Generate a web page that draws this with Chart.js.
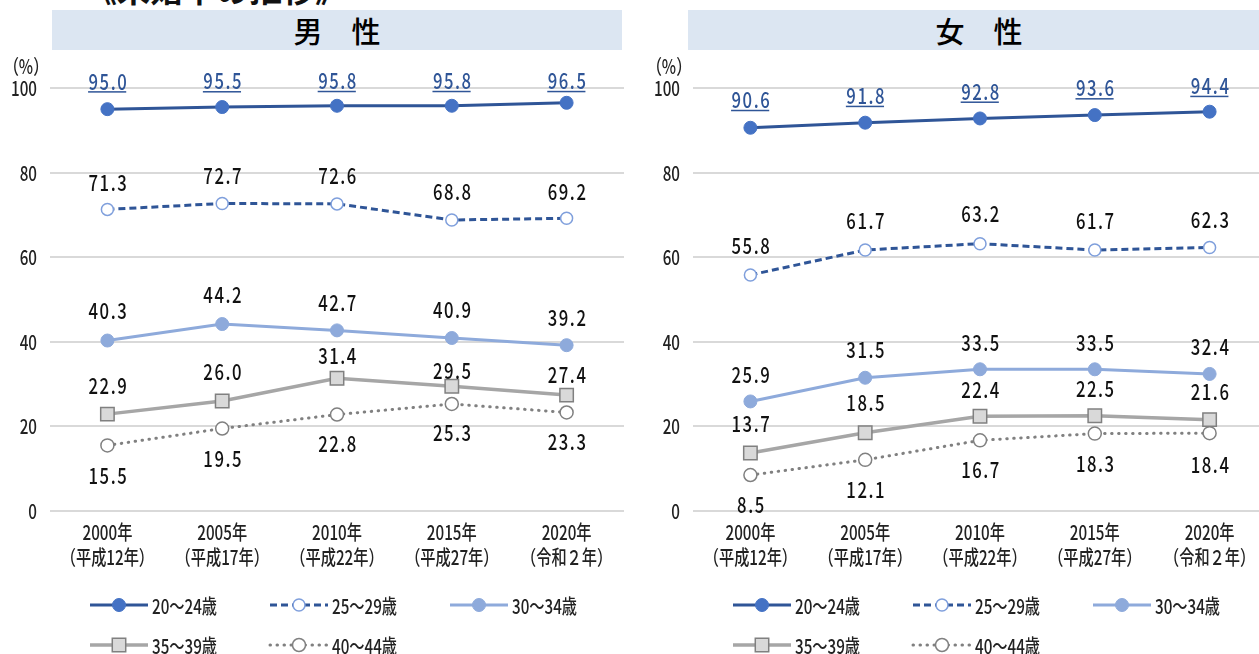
<!DOCTYPE html>
<html>
<head>
<meta charset="utf-8">
<script src="https://cdn.jsdelivr.net/npm/chart.js@4/dist/chart.umd.min.js"></script>
<style>
  body { margin: 0; width: 1259px; height: 654px; overflow: hidden; background: #fff; position: relative;
         font-family: "Noto Sans CJK JP", sans-serif; }
  .title { position: absolute; left: 84px; top: -28px; font-size: 33px; line-height: 33px; font-weight: 700; color: #111; white-space: nowrap; }
  .head { position: absolute; top: 10px; height: 40px; background: #dce6f2; color: #000;
          font-size: 29px; line-height: 40px; text-align: center; font-weight: 500; }
  canvas { position: absolute; top: 0; }
</style>
</head>
<body>
<div class="title">《未婚率の推移》</div>
<div class="head" style="left:52px;width:570px">男　性</div>
<div class="head" style="left:688px;width:582px">女　性</div>
<canvas id="male" width="645" height="654" style="left:0"></canvas>
<canvas id="female" width="645" height="654" style="left:643px"></canvas>
<script>
const YEARS = ['2000年', '2005年', '2010年', '2015年', '2020年']
const ERAS = ['（平成12年）', '（平成17年）', '（平成22年）', '（平成27年）', '（令和２年）']
const AGES = ['20～24歳', '25～29歳', '30～34歳', '35～39歳', '40～44歳']
const Y_TICKS = [0, 20, 40, 60, 80, 100]

// 男性
const MALE_20_24 = [95.0, 95.5, 95.8, 95.8, 96.5]
const MALE_25_29 = [71.3, 72.7, 72.6, 68.8, 69.2]
const MALE_30_34 = [40.3, 44.2, 42.7, 40.9, 39.2]
const MALE_35_39 = [22.9, 26.0, 31.4, 29.5, 27.4]
const MALE_40_44 = [15.5, 19.5, 22.8, 25.3, 23.3]

// 女性
const FEMALE_20_24 = [90.6, 91.8, 92.8, 93.6, 94.4]
const FEMALE_25_29 = [55.8, 61.7, 63.2, 61.7, 62.3]
const FEMALE_30_34 = [25.9, 31.5, 33.5, 33.5, 32.4]
const FEMALE_35_39 = [13.7, 18.5, 22.4, 22.5, 21.6]
const FEMALE_40_44 = [8.5, 12.1, 16.7, 18.3, 18.4]

// label nudges (px from the point), hand placed in the original
const MALE_SHIFT = [
  [-28, -26, -25, -25, -22],
  [-27, -28, -28, -28, -27],
  [-30, -29, -28, -28, -28],
  [-28, -29, -23, -16, -20],
  [30, 30, 29, 29, 29],
]
const FEMALE_SHIFT = [
  [-28, -27, -27, -27, -26],
  [-29, -29, -30, -29, -28],
  [-27, -28, -27, -27, -27],
  [-29, -30, -27, -27, -28],
  [30, 30, 29, 30, 31],
]

const FONT = '"Noto Sans CJK JP", sans-serif'
const NARROW = 0.76

const STYLES = [
  { borderColor: '#2f5597', borderWidth: 3, pointStyle: 'circle', pointRadius: 6.5,
    pointBackgroundColor: '#4472c4', pointBorderColor: '#4472c4', pointBorderWidth: 1,
    labelColor: '#2f5597', underline: true },
  { borderColor: '#2f5597', borderWidth: 3, borderDash: [7, 4], pointStyle: 'circle', pointRadius: 6,
    pointBackgroundColor: '#fff', pointBorderColor: '#7f9fdc', pointBorderWidth: 1.5 },
  { borderColor: '#8eaadb', borderWidth: 3, pointStyle: 'circle', pointRadius: 6.5,
    pointBackgroundColor: '#8eaadb', pointBorderColor: '#8eaadb', pointBorderWidth: 1 },
  { borderColor: '#a6a6a6', borderWidth: 3.5, pointStyle: 'rect', pointRadius: 9.5,
    pointBackgroundColor: '#d9d9d9', pointBorderColor: '#808080', pointBorderWidth: 1.5 },
  { borderColor: '#808080', borderWidth: 3, borderDash: [0.5, 6.5], borderCapStyle: 'round',
    pointStyle: 'circle', pointRadius: 6.5,
    pointBackgroundColor: '#fff', pointBorderColor: '#808080', pointBorderWidth: 1.5 },
]

// condensed text: the original uses a narrow face, so squeeze horizontally
function text(ctx, str, x, y, size, align = 'center', color = '#111', spacing = 0) {
  ctx.save()
  ctx.font = '500 ' + size + 'px ' + FONT
  ctx.letterSpacing = spacing + 'px'
  ctx.fillStyle = color
  ctx.textAlign = align
  ctx.textBaseline = 'middle'
  ctx.translate(x, y)
  ctx.scale(NARROW, 1)
  ctx.fillText(str, 0, 0)
  const w = ctx.measureText(str).width * NARROW
  ctx.restore()
  return w
}

function marker(ctx, ds, x, y) {
  ctx.save()
  ctx.setLineDash([])
  ctx.fillStyle = ds.pointBackgroundColor
  ctx.strokeStyle = ds.pointBorderColor
  ctx.lineWidth = ds.pointBorderWidth
  ctx.beginPath()
  if (ds.pointStyle === 'rect') {
    const s = ds.pointRadius * Math.SQRT1_2
    ctx.rect(x - s, y - s, 2 * s, 2 * s)
  } else {
    ctx.arc(x, y, ds.pointRadius, 0, Math.PI * 2)
  }
  ctx.fill()
  ctx.stroke()
  ctx.restore()
}

const extras = {
  id: 'extras',
  afterDatasetsDraw(chart) {
    const ctx = chart.ctx
    chart.data.datasets.forEach((ds, i) => {
      chart.getDatasetMeta(i).data.forEach((pt, j) => {
        const y = pt.y + ds.labelShift[j]
        const color = ds.labelColor || '#111'
        const w = text(ctx, ds.data[j].toFixed(1), pt.x + 1, y, 22, 'center', color, 2)
        if (ds.underline) {
          ctx.fillStyle = color
          ctx.fillRect(pt.x - w / 2 + 0.5, y + 10, w - 1.5, 1.5)
        }
      })
    })
  },
  afterDraw(chart) {
    const ctx = chart.ctx
    const { x: xs, y: ys } = chart.scales
    // axis labels
    text(ctx, '（%）', 26, 66, 20, 'center', '#222')
    Y_TICKS.forEach(v => text(ctx, String(v), 37, ys.getPixelForValue(v) + 0.5, 20, 'right', '#222'))
    chart.data.labels.forEach((lines, i) => {
      const x = xs.getPixelForValue(i)
      lines.forEach((s, k) => text(ctx, s, x, 532 + k * 25, 20, 'center', '#222'))
    })
    // legend
    chart.data.datasets.forEach((ds, i) => {
      const x = 90 + (i % 3) * 180
      const y = 605 + Math.floor(i / 3) * 40
      ctx.save()
      ctx.strokeStyle = ds.borderColor
      ctx.lineWidth = ds.borderWidth
      ctx.lineCap = ds.borderCapStyle || 'butt'
      ctx.setLineDash(ds.borderDash || [])
      ctx.beginPath()
      ctx.moveTo(x, y)
      ctx.lineTo(x + 58, y)
      ctx.stroke()
      ctx.restore()
      marker(ctx, ds, x + 29, y)
      text(ctx, ds.label, x + 62, y + 1, 20, 'left', '#222')
    })
  },
}

function build(id, series, shifts) {
  return new Chart(document.getElementById(id), {
    type: 'line',
    data: {
      labels: YEARS.map((y, i) => [y, ERAS[i]]),
      datasets: series.map((vals, i) => ({
        label: AGES[i], data: vals, labelShift: shifts[i], tension: 0, clip: false, ...STYLES[i],
      })),
    },
    options: {
      responsive: false,
      animation: false,
      layout: { padding: { top: 88, left: 0, right: 21, bottom: 80 } },
      plugins: { legend: { display: false }, tooltip: { enabled: false } },
      scales: {
        x: {
          offset: true,
          grid: { display: false },
          border: { display: false },
          ticks: { display: false },
          afterFit: s => { s.height = 63 },
        },
        y: {
          min: 0, max: 100,
          afterBuildTicks: s => { s.ticks = Y_TICKS.map(v => ({ value: v })) },
          grid: { color: '#d9d9d9', lineWidth: 2, drawTicks: false },
          border: { display: false },
          ticks: { display: false },
          afterFit: s => { s.width = 50 },
        },
      },
    },
    plugins: [extras],
  })
}

build('male', [MALE_20_24, MALE_25_29, MALE_30_34, MALE_35_39, MALE_40_44], MALE_SHIFT)
build('female', [FEMALE_20_24, FEMALE_25_29, FEMALE_30_34, FEMALE_35_39, FEMALE_40_44], FEMALE_SHIFT)
</script>
</body>
</html>
